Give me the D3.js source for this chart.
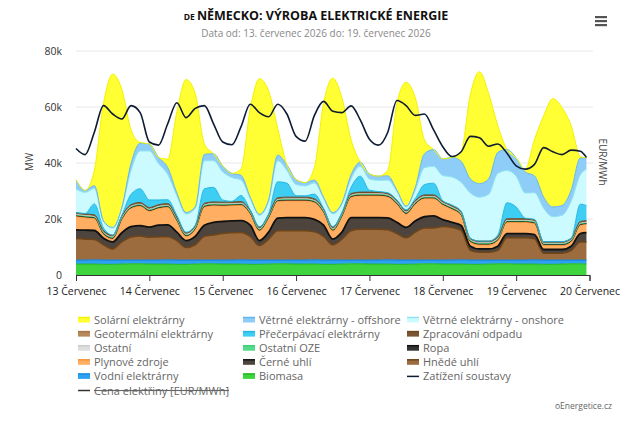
<!DOCTYPE html>
<html>
<head>
<meta charset="utf-8">
<script src="https://cdn.jsdelivr.net/npm/d3@7"></script>
<style>
  body { margin: 0; background: #fff; }
  #chart { font-family: "Open Sans", Lato, sans-serif; }
</style>
</head>
<body>
<div id="chart"></div>
<script>
// hodiny od 13.7. 00:00 (krok 3 h)
const hours = [0,3,6,9,12,15,18,21, 24,27,30,33,36,39,42,45, 48,51,54,57,60,63,66,69, 72,75,78,81,84,87,90,93,
  96,99,102,105,108,111,114,117, 120,123,126,129,132,135,138,141, 144,147,150,153,156,159,162,165, 167];

const dayLabels = ["13 Červenec","14 Červenec","15 Červenec","16 Červenec","17 Červenec","18 Červenec","19 Červenec","20 Červenec"];
const yTicks = [0, 20, 40, 60, 80];

// hodnoty v tis. MW
const biomasa  = [3.9,3.9,3.9,3.8,3.8,3.9,4.0,4.0, 3.9,3.9,3.9,3.8,3.8,3.9,4.0,4.0, 3.9,3.9,3.9,3.8,3.8,3.9,4.0,4.0,
  3.9,3.9,3.9,3.8,3.8,3.9,4.0,4.0, 3.9,3.9,3.9,3.8,3.8,3.9,4.0,4.0, 3.9,3.9,3.9,3.8,3.8,3.9,4.0,4.0, 3.9,3.9,3.9,3.8,3.8,3.9,4.0,4.0, 3.9];
const vodni    = [1.4,1.4,1.5,1.5,1.5,1.4,1.3,1.3, 1.4,1.4,1.5,1.5,1.5,1.4,1.3,1.3, 1.4,1.4,1.5,1.5,1.5,1.4,1.3,1.3,
  1.4,1.4,1.5,1.5,1.5,1.4,1.3,1.3, 1.4,1.4,1.5,1.5,1.5,1.4,1.3,1.3, 1.4,1.4,1.5,1.5,1.5,1.4,1.3,1.3, 1.4,1.4,1.5,1.5,1.5,1.4,1.3,1.3, 1.4];
const hnede    = [7.7,7.5,7.3,5.5,4.0,6.5,8.3,8.6, 8.2,8.3,8.3,7.0,4.5,5.5,8.5,9.0, 9.5,9.8,9.8,8.5,5.2,7.5,10.5,10.5,
  10.5,10.5,10.0,8.5,5.5,7.5,10.5,11.0, 11.0,11.0,10.8,9.5,8.0,10.0,11.5,11.5, 12.0,11.7,10.5,3.5,2.8,2.8,3.5,8.0, 8.0,8.0,7.5,2.5,2.5,2.5,3.5,6.5, 6.5];
const cerne    = [3.1,3.2,3.2,2.3,2.5,3.3,3.7,3.7, 3.6,4.2,4.2,3.0,2.5,3.0,4.0,4.5, 4.3,4.2,4.2,4.0,1.8,2.5,4.5,4.7,
  4.7,4.7,4.5,4.0,2.0,2.5,4.7,4.2, 4.2,4.2,4.2,4.0,3.7,4.0,4.0,4.3, 2.5,1.8,1.8,1.5,1.2,1.2,1.5,1.5, 1.5,1.5,1.5,1.3,1.3,1.3,1.5,3.0, 3.3];
const plyn     = [4.8,4.5,4.3,1.4,1.1,4.7,6.5,7.0, 5.7,6.0,6.3,4.0,1.5,2.5,6.5,6.0, 5.6,5.5,5.5,4.0,3.5,5.0,6.0,6.0,
  6.0,6.0,6.0,4.5,3.0,5.5,7.3,7.8, 7.8,7.8,7.5,6.5,4.8,6.0,6.5,6.2, 5.2,4.7,3.6,1.5,1.5,1.5,2.0,4.0, 4.0,4.0,4.0,1.5,1.5,1.5,1.5,3.0, 3.0];
const ropa     = [0.3,0.3,0.3,0.3,0.3,0.3,0.3,0.3, 0.3,0.3,0.3,0.3,0.3,0.3,0.3,0.3, 0.3,0.3,0.3,0.3,0.3,0.3,0.3,0.3,
  0.3,0.3,0.3,0.3,0.3,0.3,0.3,0.3, 0.3,0.3,0.3,0.3,0.3,0.3,0.3,0.3, 0.3,0.3,0.3,0.3,0.3,0.3,0.3,0.3, 0.3,0.3,0.3,0.3,0.3,0.3,0.3,0.3, 0.3];
const ostOze   = [0.2,0.2,0.2,0.2,0.2,0.2,0.2,0.2, 0.2,0.2,0.2,0.2,0.2,0.2,0.2,0.2, 0.2,0.2,0.2,0.2,0.2,0.2,0.2,0.2,
  0.2,0.2,0.2,0.2,0.2,0.2,0.2,0.2, 0.2,0.2,0.2,0.2,0.2,0.2,0.2,0.2, 0.2,0.2,0.2,0.2,0.2,0.2,0.2,0.2, 0.2,0.2,0.2,0.2,0.2,0.2,0.2,0.2, 0.2];
const ostatni  = [0.3,0.3,0.3,0.3,0.3,0.3,0.3,0.3, 0.3,0.3,0.3,0.3,0.3,0.3,0.3,0.3, 0.3,0.3,0.3,0.3,0.3,0.3,0.3,0.3,
  0.3,0.3,0.3,0.3,0.3,0.3,0.3,0.3, 0.3,0.3,0.3,0.3,0.3,0.3,0.3,0.3, 0.3,0.3,0.3,0.3,0.3,0.3,0.3,0.3, 0.3,0.3,0.3,0.3,0.3,0.3,0.3,0.3, 0.3];
const odpad    = [0.5,0.5,0.5,0.5,0.5,0.5,0.5,0.5, 0.5,0.5,0.5,0.5,0.5,0.5,0.5,0.5, 0.5,0.5,0.5,0.5,0.5,0.5,0.5,0.5,
  0.5,0.5,0.5,0.5,0.5,0.5,0.5,0.5, 0.5,0.5,0.5,0.5,0.5,0.5,0.5,0.5, 0.5,0.5,0.5,0.5,0.5,0.5,0.5,0.5, 0.5,0.5,0.5,0.5,0.5,0.5,0.5,0.5, 0.5];
const prec     = [0.1,0.2,3.9,1.0,0.1,0.2,3.7,4.9, 2.7,1.7,1.4,0.7,0.2,0.2,5.2,5.2, 0.8,0.2,2.2,0.2,0.2,0.2,5.7,5.0,
  0.5,0.5,1.7,0.2,0.2,0.2,2.2,5.7, 0.7,0.2,0.2,0.2,0.2,0.7,3.7,4.2, 0.2,0.2,0.2,0.0,0.0,0.0,0.7,5.7, 4.2,0.2,0.2,0.0,0.0,0.0,0.0,6.2, 5.4];
const geoterm  = [0,0,0,0,0,0,0,0, 0,0,0,0,0,0,0,0, 0,0,0,0,0,0,0,0, 0,0,0,0,0,0,0,0, 0,0,0,0,0,0,0,0, 0,0,0,0,0,0,0,0, 0,0,0,0,0,0,0,0, 0];
const onshore  = [8.4,7.5,5.5,2.3,2.5,2.5,8.5,13.5, 17.5,13.0,9.0,7.0,6.5,6.0,10.0,9.5, 10.0,8.5,5.5,4.0,4.0,4.5,7.5,4.5,
  4.0,3.5,4.0,3.5,4.5,3.0,3.0,3.5, 4.0,4.0,4.5,3.0,1.0,3.0,6.0,6.0, 9.0,10.0,10.3,16.2,15.7,16.7,22.0,11.5, 11.0,9.0,9.5,11.9,8.9,9.4,13.2,10.5, 13.0];
const offshore = [3.3,0.7,1.0,0.2,0.2,0.3,2.5,2.8, 2.5,2.2,2.5,1.0,0.5,0.5,2.3,2.5, 2.2,1.5,1.7,0.5,0.4,0.5,2.0,2.0,
  1.8,1.2,1.0,0.5,0.5,0.5,1.5,1.5, 1.8,1.5,1.5,0.5,0.3,1.0,5.0,6.0, 6.0,7.0,7.5,5.0,4.8,5.5,7.5,7.5, 6.5,7.5,6.0,4.0,3.5,3.5,4.0,6.0, 4.0];
const solar    = [0,0,5.5,42.0,54.7,42.2,12.0,0.2, 0,0,3.0,29.0,47.5,40.5,3.7,0, 0,0,2.3,31.5,48.4,39.0,9.5,0,
  0,0,4.5,33.5,48.0,37.5,12.5,0, 0,0,2.0,31.0,44.2,32.0,5.0,0, 0,0,3.5,30.0,40.0,30.5,9.5,0, 0,1.0,13.0,29.0,38.7,35.0,23.0,0.5, 0];
const zatizeni = [45.2,43.0,51.0,60.5,57.5,55.7,60.5,58.0, 47.5,46.4,54.0,61.5,56.2,59.5,60.5,54.0, 47.5,46.5,53.0,61.0,58.0,56.5,61.0,57.5,
  49.5,47.8,57.0,62.0,58.5,58.0,60.4,55.4, 48.5,46.4,51.0,62.3,60.5,57.0,57.5,51.8, 45.8,42.3,44.0,49.5,49.0,46.0,46.8,43.5,
  39.0,37.8,39.5,45.5,44.0,43.0,44.6,44.2, 42.0];

// poradi vrstev zdola nahoru
const series = [
  { key: "biomasa",  name: "Biomasa",                     values: biomasa,  fill: "#3dd43d", line: "#22b822", lw: 1 },
  { key: "vodni",    name: "Vodní elektrárny",            values: vodni,    fill: "#2ea2f2", line: "#1a8be0", lw: 1.5 },
  { key: "hnede",    name: "Hnědé uhlí",                  values: hnede,    fill: "#9c6c3f", line: "#6e4419", lw: 1.5 },
  { key: "cerne",    name: "Černé uhlí",                  values: cerne,    fill: "#4d453d", line: "#111111", lw: 1.8 },
  { key: "plyn",     name: "Plynové zdroje",              values: plyn,     fill: "#ffae62", line: "#f59536", lw: 1 },
  { key: "ropa",     name: "Ropa",                        values: ropa,     fill: "#333333", line: "#111111", lw: 1 },
  { key: "ostOze",   name: "Ostatní OZE",                 values: ostOze,   fill: "#55d98a", line: "#3fcf78", lw: 0.8 },
  { key: "ostatni",  name: "Ostatní",                     values: ostatni,  fill: "#dddddd", line: "#cccccc", lw: 0.5 },
  { key: "odpad",    name: "Zpracování odpadu",           values: odpad,    fill: "#7a5530", line: "#6b4722", lw: 1 },
  { key: "prec",     name: "Přečerpávací elektrárny",     values: prec,     fill: "#3ecdf3", line: "#22b6e6", lw: 1 },
  { key: "geo",      name: "Geotermální elektrárny",      values: geoterm,  fill: "#b5895c", line: "#a47749", lw: 0 },
  { key: "onshore",  name: "Větrné elektrárny - onshore", values: onshore,  fill: "#cbfbff", line: "#8fe3f2", lw: 1 },
  { key: "offshore", name: "Větrné elektrárny - offshore",values: offshore, fill: "#8ecdf7", line: "#62b6ee", lw: 1 },
  { key: "solar",    name: "Solární elektrárny",          values: solar,    fill: "#ffff33", line: "#f2f200", lw: 1 }
];

const legendOrder = ["solar","offshore","onshore","geo","prec","odpad","ostatni","ostOze","ropa","plyn","cerne","hnede","vodni","biomasa","load","price"];

const W = 630, H = 422;

const svg = d3.select("#chart").append("svg").attr("width", W).attr("height", H);

const x = d3.scaleLinear().domain([0, 168]).range([76, 589.5]);
const y = d3.scaleLinear().domain([0, 80]).range([275, 51]);

// titulek
const title = svg.append("text").attr("x", 316).attr("y", 20).attr("text-anchor", "middle")
  .style("font-weight", "700").style("fill", "#111");
title.append("tspan").style("font-size", "8.5px").text("DE ");
title.append("tspan").style("font-size", "12.5px").text("NĚMECKO: VÝROBA ELEKTRICKÉ ENERGIE");

svg.append("text").attr("x", 316).attr("y", 37).attr("text-anchor", "middle")
  .style("font-size", "10px").style("fill", "#888").text("Data od: 13. červenec 2026 do: 19. červenec 2026");

// menu
[0, 4, 8].forEach(d => {
  svg.append("rect").attr("x", 595).attr("y", 16 + d).attr("width", 12).attr("height", 2.2).attr("fill", "#555");
});

// mrizka
svg.append("g").selectAll("line").data(yTicks.slice(1)).join("line")
  .attr("x1", 76).attr("x2", 593).attr("y1", d => y(d)).attr("y2", d => y(d))
  .attr("stroke", "#e8e8e8").attr("stroke-width", 1);

svg.append("g").selectAll("text").data(yTicks).join("text")
  .attr("x", 62).attr("y", d => y(d) + 4).attr("text-anchor", "end")
  .style("font-size", "10.5px").style("fill", "#333")
  .text(d => d === 0 ? "0" : d + "k");

svg.append("text").attr("transform", "translate(33,162) rotate(-90)").attr("text-anchor", "middle")
  .style("font-size", "10px").style("fill", "#444").text("MW");
svg.append("text").attr("transform", "translate(599,162) rotate(90)").attr("text-anchor", "middle")
  .style("font-size", "10px").style("fill", "#444").text("EUR/MWh");

// plochy
const rows = hours.map((h, i) => {
  const r = { h };
  series.forEach(s => r[s.key] = s.values[i]);
  return r;
});
const stacked = d3.stack().keys(series.map(s => s.key))(rows);

const area = d3.area().x(d => x(d.data.h)).y0(d => y(d[0])).y1(d => y(d[1])).curve(d3.curveMonotoneX);
const topLine = d3.line().x(d => x(d.data.h)).y(d => y(d[1])).curve(d3.curveMonotoneX);

const gArea = svg.append("g");
stacked.forEach((layer, i) => {
  gArea.append("path").datum(layer).attr("d", area).attr("fill", series[i].fill);
});
stacked.forEach((layer, i) => {
  const s = series[i];
  if (s.lw > 0) gArea.append("path").datum(layer).attr("d", topLine)
    .attr("fill", "none").attr("stroke", s.line).attr("stroke-width", s.lw);
});

// zatizeni
const loadLine = d3.line().x((d, i) => x(hours[i])).y(d => y(d)).curve(d3.curveMonotoneX);
svg.append("path").datum(zatizeni).attr("d", loadLine)
  .attr("fill", "none").attr("stroke", "#0d1b33").attr("stroke-width", 1.6);

// osa x
const xAxis = d3.axisBottom(x).tickValues(d3.range(0, 169, 24)).tickSize(6)
  .tickFormat((d, i) => dayLabels[i]);
const gx = svg.append("g").attr("transform", "translate(0,275)").call(xAxis);
gx.select(".domain").attr("stroke", "#333");
gx.selectAll(".tick line").attr("stroke", "#333");
gx.selectAll(".tick text").style("font-size", "10.5px").style("fill", "#222")
  .style("font-family", "'Open Sans', Lato, sans-serif").attr("dy", "1.05em");

// legenda
const legendItems = legendOrder.map(k => {
  if (k === "load") return { name: "Zatížení soustavy", type: "line", color: "#0d1b33" };
  if (k === "price") return { name: "Cena elektřiny [EUR/MWh]", type: "line", color: "#333", hidden: true };
  const s = series.find(d => d.key === k);
  return { name: s.name, type: "area", color: s.fill, line: s.line };
});
const colX = [78, 243, 407];
const gLeg = svg.append("g");
legendItems.forEach((it, i) => {
  const cx = colX[i % 3], cy = 320 + Math.floor(i / 3) * 14.1;
  const g = gLeg.append("g").attr("transform", `translate(${cx},${cy})`);
  if (it.type === "area") {
    g.append("rect").attr("x", 0).attr("y", -2.5).attr("width", 12).attr("height", 5).attr("fill", it.color);
    g.append("line").attr("x1", 0).attr("x2", 12).attr("y1", -2.5).attr("y2", -2.5).attr("stroke", it.line).attr("stroke-width", 1.5);
  } else {
    g.append("line").attr("x1", 0).attr("x2", 12).attr("y1", 0).attr("y2", 0).attr("stroke", it.color).attr("stroke-width", 1.5);
  }
  g.append("text").attr("x", 16).attr("y", 4).style("font-size", "11px").style("fill", "#666")
    .style("text-decoration", it.hidden ? "line-through" : null).text(it.name);
});

svg.append("text").attr("x", 612).attr("y", 409).attr("text-anchor", "end")
  .style("font-size", "8.5px").style("fill", "#666").text("oEnergetice.cz");
</script>
</body>
</html>
